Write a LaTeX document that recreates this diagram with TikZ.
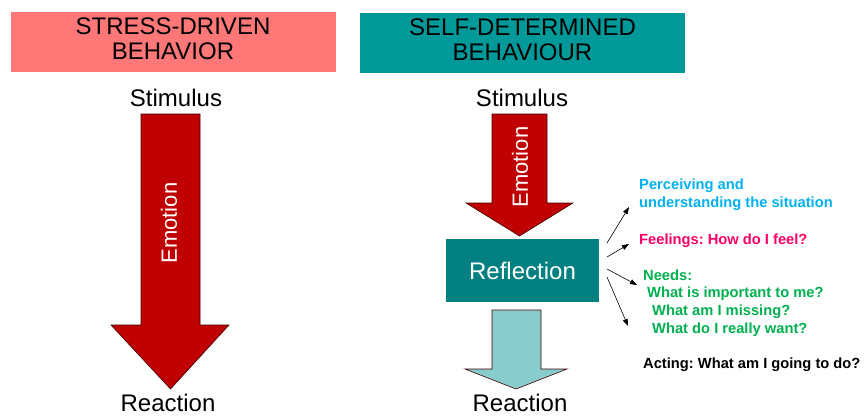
\documentclass[tikz,border=0pt]{standalone}
\usepackage{fontspec}
\setmainfont{Liberation Sans}
\usetikzlibrary{arrows.meta}
\frenchspacing

\definecolor{stressred}{HTML}{FF7777}
\definecolor{selfteal}{HTML}{009999}
\definecolor{reflteal}{HTML}{008080}
\definecolor{arrowred}{HTML}{C00000}
\definecolor{arrowdark}{HTML}{400000}
\definecolor{lightteal}{HTML}{88CCCC}
\definecolor{perccyan}{HTML}{00B0F0}
\definecolor{feelpink}{HTML}{FF0066}
\definecolor{needgreen}{HTML}{00B050}

\tikzset{
  titlebox/.style={fill=#1, draw=none, inner sep=0pt, minimum width=325pt, minimum height=60pt},
  titletext/.style={inner sep=0pt, align=center, font=\fontsize{24pt}{25pt}\selectfont},
  biglabel/.style={inner sep=0pt, anchor=base, font=\fontsize{24pt}{28pt}\selectfont},
  emotionlabel/.style={inner sep=0pt, text=white, rotate=90, font=\fontsize{22pt}{26pt}\selectfont},
  blockarrow/.style={fill=#1, draw=arrowdark, line width=0.6pt, line join=miter},
  reflbox/.style={fill=reflteal, draw=none, inner sep=0pt, minimum width=153pt, minimum height=63pt,
    text=white, font=\fontsize{24pt}{28pt}\selectfont},
  sidetext/.style={inner sep=0pt, anchor=base west, font=\fontsize{14.7pt}{17pt}\selectfont\bfseries},
  sidearrow/.style={draw=black, line width=0.6pt, -{Triangle[length=7pt,width=5pt]}}
}

\begin{document}
\begin{tikzpicture}[x=1pt,y=-1pt]
  \useasboundingbox (0,0) rectangle (866,416);

  % ---- headings ----
  \node[titlebox=stressred] (head1) at (173,41.5) {};
  \node[titletext] (head1text) at ([yshift=3pt]head1.center) {STRESS-DRIVEN\\BEHAVIOR};
  \node[titlebox=selfteal] (head2) at (522.5,43) {};
  \node[titletext] (head2text) at ([yshift=3pt]head2.center) {SELF-DETERMINED\\BEHAVIOUR};

  % ---- left column: stimulus straight to reaction ----
  \node[biglabel] (stimL) at (176,106) {Stimulus};
  \draw[blockarrow=arrowred]
    (141,114) -- (200,114) -- (200,325) -- (229,325) -- (170.5,389)
    -- (111,325) -- (141,325) -- cycle;
  \node[emotionlabel] (emoL) at (169,223) {Emotion};
  \node[biglabel] (reacL) at (168,411.5) {Reaction};

  % ---- right column: stimulus, reflection, reaction ----
  \node[biglabel] (stimR) at (522,106) {Stimulus};
  \draw[blockarrow=arrowred]
    (492,114) -- (547,114) -- (547,203) -- (573,203) -- (519.5,236)
    -- (466,203) -- (492,203) -- cycle;
  \node[emotionlabel] (emoR) at (520,167) {Emotion};

  \node[reflbox] (refl) at (522.5,270.5) {Reflection};

  \draw[blockarrow=lightteal]
    (492,310) -- (541,310) -- (541,369) -- (567,369) -- (516,389)
    -- (465,369) -- (492,369) -- cycle;
  \node[biglabel] (reacR) at (520,411.5) {Reaction};

  % ---- reflection questions ----
  \node[sidetext, text=perccyan] (perc1) at (639,189) {Perceiving and};
  \node[sidetext, text=perccyan] (perc2) at (639,207) {understanding the situation};
  \node[sidetext, text=feelpink] (feel) at (639,244) {Feelings: How do I feel?};
  \node[sidetext, text=needgreen] (need0) at (643,280) {Needs:};
  \node[sidetext, text=needgreen] (need1) at (647,297) {What is important to me?};
  \node[sidetext, text=needgreen] (need2) at (652,315) {What am I missing?};
  \node[sidetext, text=needgreen] (need3) at (652,333) {What do I really want?};
  \node[sidetext, text=black] (act) at (643,368) {Acting: What am I going to do?};

  % ---- fan of arrows leaving the reflection box ----
  \coordinate (s1) at (607,243);
  \coordinate (s2) at (607,257);
  \coordinate (s3) at (607,269);
  \coordinate (s4) at (607,277);
  \coordinate (e1) at (629,207);
  \coordinate (e2) at (629,244);
  \coordinate (e3) at (637,285);
  \coordinate (e4) at (628,326);
  \draw[sidearrow] (s1) -- (e1);
  \draw[sidearrow] (s2) -- (e2);
  \draw[sidearrow] (s3) -- (e3);
  \draw[sidearrow] (s4) -- (e4);
\end{tikzpicture}
\end{document}
